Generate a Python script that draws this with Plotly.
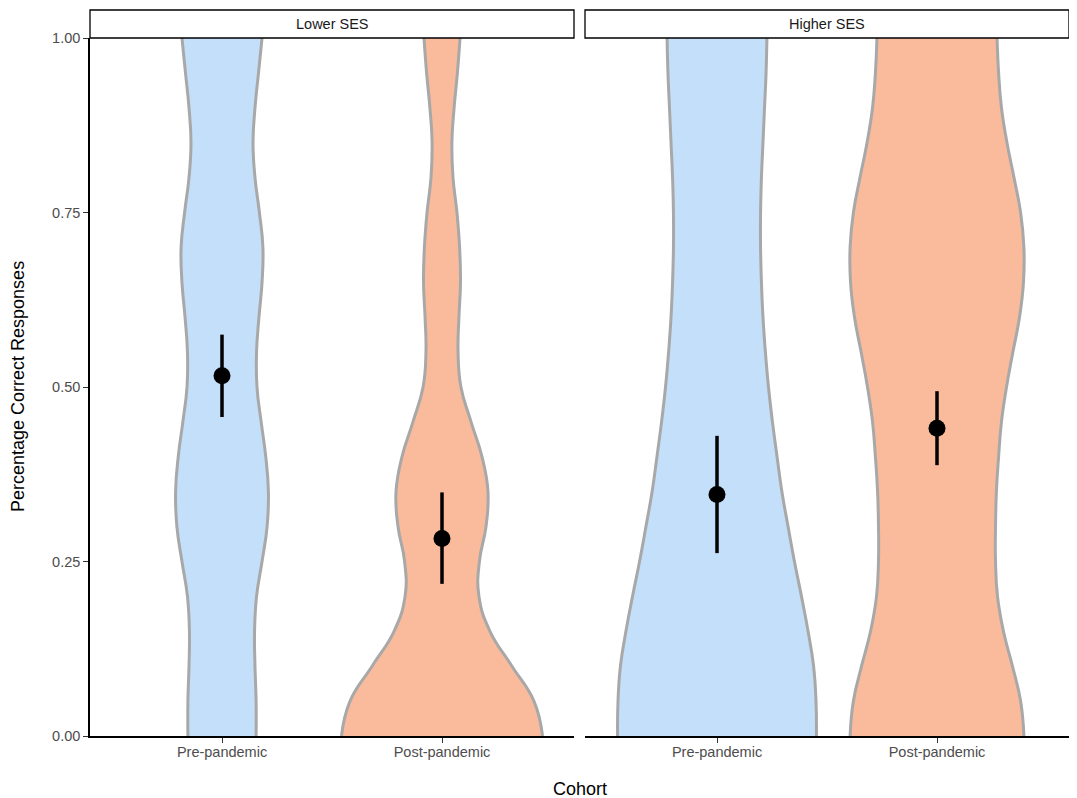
import plotly.graph_objects as go

# ---------------- data ----------------
panels = ["Lower SES", "Higher SES"]
cohorts = ["Pre-pandemic", "Post-pandemic"]
y_ticks = [0.0, 0.25, 0.5, 0.75, 1.0]
y_tick_labels = ["0.00", "0.25", "0.50", "0.75", "1.00"]

# y positions at which the violin half-widths were read
y_grid = [0.00, 0.05, 0.10, 0.15, 0.20, 0.25, 0.30, 0.35, 0.40, 0.45, 0.50,
          0.55, 0.60, 0.65, 0.70, 0.75, 0.80, 0.85, 0.90, 0.95, 1.00]

# violin half-widths (x-axis units) along y_grid
lower_pre_width = [0.155, 0.155, 0.150, 0.148, 0.157, 0.182, 0.205, 0.211, 0.199, 0.178, 0.159,
                   0.157, 0.168, 0.182, 0.186, 0.170, 0.150, 0.141, 0.150, 0.166, 0.182]
lower_post_width = [0.457, 0.418, 0.318, 0.218, 0.168, 0.170, 0.200, 0.209, 0.182, 0.132, 0.086,
                    0.073, 0.077, 0.084, 0.080, 0.068, 0.050, 0.045, 0.055, 0.070, 0.082]
higher_pre_width = [0.452, 0.450, 0.439, 0.414, 0.384, 0.352, 0.323, 0.295, 0.273, 0.252, 0.234,
                    0.220, 0.209, 0.202, 0.198, 0.198, 0.202, 0.209, 0.216, 0.223, 0.227]
higher_post_width = [0.395, 0.380, 0.343, 0.302, 0.275, 0.266, 0.266, 0.270, 0.280, 0.293, 0.316,
                     0.345, 0.375, 0.393, 0.395, 0.380, 0.350, 0.318, 0.293, 0.280, 0.273]

# means and interval bounds, [Pre, Post] per panel
lower_mean = [0.516, 0.283]
lower_lo = [0.457, 0.218]
lower_hi = [0.575, 0.349]
higher_mean = [0.346, 0.441]
higher_lo = [0.262, 0.388]
higher_hi = [0.430, 0.494]

# ---------------- styling ----------------
fill_colors = {"Pre-pandemic": "#C3DFF9", "Post-pandemic": "#F9BB9C"}
outline = "#A8A8A8"
FONT = "Liberation Sans, Arial, sans-serif"

# the page body adds an 8px offset; figure coordinates are page - 8
OFF = 8
W, H = 1077 - OFF, 798 - OFF
L, T = 90 - OFF, 38 - OFF
R = W - (1069 - OFF)
B = H - (736 - OFF)
PW = W - L - R
PH = H - T - B

widths = {
    "Lower SES": [lower_pre_width, lower_post_width],
    "Higher SES": [higher_pre_width, higher_post_width],
}
stats = {
    "Lower SES": (lower_mean, lower_lo, lower_hi),
    "Higher SES": (higher_mean, higher_lo, higher_hi),
}

fig = go.Figure()
axes = [("x", "y"), ("x2", "y2")]

for pi, panel in enumerate(panels):
    xa, ya = axes[pi]
    for ci, coh in enumerate(cohorts):
        pos = ci + 1
        hw = widths[panel][ci]
        # left edge
        fig.add_trace(go.Scatter(
            x=[pos - w for w in hw], y=y_grid, mode="lines",
            line=dict(color=outline, width=3, shape="spline", smoothing=1.3),
            xaxis=xa, yaxis=ya, hoverinfo="skip", showlegend=False))
        # right edge, filled to left edge
        fig.add_trace(go.Scatter(
            x=[pos + w for w in hw], y=y_grid, mode="lines",
            line=dict(color=outline, width=3, shape="spline", smoothing=1.3),
            fill="tonextx", fillcolor=fill_colors[coh],
            xaxis=xa, yaxis=ya, hoverinfo="skip", showlegend=False))

for pi, panel in enumerate(panels):
    xa, ya = axes[pi]
    m, lo, hi = stats[panel]
    fig.add_trace(go.Scatter(
        x=[1, 2], y=m, mode="markers",
        marker=dict(color="black", size=17),
        error_y=dict(type="data", symmetric=False,
                     array=[h - v for h, v in zip(hi, m)],
                     arrayminus=[v - l for v, l in zip(m, lo)],
                     thickness=3.5, width=0, color="black"),
        xaxis=xa, yaxis=ya, showlegend=False))

tick_font = dict(family=FONT, size=14.5, color="#4D4D4D")
xcommon = dict(range=[0.4, 2.6], tickmode="array", tickvals=[1, 2], ticktext=cohorts,
               showline=True, linecolor="black", linewidth=1.5, ticks="outside",
               ticklen=5, tickwidth=1.2, tickcolor="#333333", tickfont=tick_font,
               ticklabelstandoff=-3,
               showgrid=False, zeroline=False, fixedrange=True)

d1 = (574 - 90) / PW
d2 = (585 - 90) / PW
fig.update_layout(
    width=W, height=H,
    margin=dict(l=L, r=R, t=T, b=B),
    paper_bgcolor="white", plot_bgcolor="white",
    font=dict(family=FONT),
    xaxis=dict(domain=[0, d1], anchor="y", **xcommon),
    xaxis2=dict(domain=[d2, 1], anchor="y2", **xcommon),
    yaxis=dict(domain=[0, 1], anchor="x", range=[0, 1], tickmode="array",
               tickvals=y_ticks, ticktext=y_tick_labels, showline=True,
               linecolor="black", linewidth=1.5, ticks="outside", ticklen=5,
               tickwidth=1.2, tickcolor="#333333", tickfont=tick_font,
               showgrid=False, zeroline=False, fixedrange=True),
    yaxis2=dict(domain=[0, 1], anchor="x2", matches="y", range=[0, 1],
                showline=False, showticklabels=False, ticks="",
                showgrid=False, zeroline=False, fixedrange=True),
    showlegend=False,
)

# facet strips
strip_h = 28 / PH
for pi, panel in enumerate(panels):
    xref = "x domain" if pi == 0 else "x2 domain"
    fig.add_shape(type="rect", xref=xref, yref="paper", x0=0, x1=1,
                  y0=1, y1=1 + strip_h, line=dict(color="black", width=1.3),
                  fillcolor="white", layer="above")
    fig.add_annotation(xref=xref, yref="paper", x=0.5, y=1 + strip_h / 2,
                       text=panel, showarrow=False, xanchor="center", yanchor="middle",
                       font=dict(family=FONT, size=14.5, color="#1A1A1A"))

# axis titles (positions in page pixels converted to paper units)
fig.add_annotation(xref="paper", yref="paper", x=(579.5 - 90) / PW, y=-(789 - 736) / PH,
                   text="Cohort", showarrow=False, xanchor="center", yanchor="middle",
                   font=dict(family=FONT, size=18, color="black"))
fig.add_annotation(xref="paper", yref="paper", x=(18 - 90) / PW, y=0.5,
                   text="Percentage Correct Responses", showarrow=False, textangle=-90,
                   xanchor="center", yanchor="middle",
                   font=dict(family=FONT, size=18, color="black"))

fig.write_html("out.html")
